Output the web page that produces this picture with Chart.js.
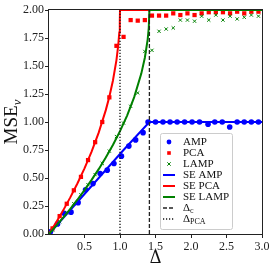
<!DOCTYPE html>
<html>
<head>
<meta charset="utf-8">
<script src="https://cdn.jsdelivr.net/npm/chart.js@4/dist/chart.umd.min.js"></script>
<style>html,body{margin:0;padding:0;background:#fff;}canvas{display:block;}</style>
</head>
<body>
<canvas id="c" width="275" height="273"></canvas>
<script>
// ---- data ----
const pcaDelta = [0.05,0.15,0.25,0.35,0.45,0.55,0.65,0.75,0.85,0.95,1.05,1.15,1.25,1.35,1.45,1.55,1.65,1.75,1.85,1.95,2.05,2.15,2.25,2.35,2.45,2.55,2.65,2.75,2.85,2.95];
const pcaMse   = [0.05,0.16,0.27,0.39,0.51,0.66,0.82,1.00,1.22,1.68,1.76,1.91,1.905,1.91,1.95,1.95,1.95,1.97,1.955,1.97,1.955,1.97,1.98,1.98,1.98,1.97,1.985,1.97,1.985,1.985];
const lampDelta = [0.05,0.15,0.25,0.35,0.45,0.55,0.65,0.75,0.85,0.95,1.05,1.15,1.25,1.35,1.45,1.55,1.65,1.75,1.85,1.95,2.05,2.15,2.25,2.35,2.45,2.55,2.65,2.75,2.85,2.95];
const lampMse   = [0.035,0.11,0.19,0.27,0.35,0.44,0.53,0.63,0.74,0.87,0.99,1.14,1.26,1.63,1.64,1.81,1.83,1.84,1.91,1.91,1.90,1.945,1.91,1.955,1.91,1.945,1.92,1.935,1.955,1.945];
const ampDelta = [0.02,0.12,0.215,0.31,0.41,0.515,0.62,0.72,0.82,0.915,1.02,1.125,1.22,1.325,1.395,1.5,1.605,1.705,1.805,1.91,2.015,2.12,2.24,2.335,2.44,2.545,2.65,2.75,2.85,2.95];
const ampMse   = [0.02,0.09,0.185,0.195,0.28,0.395,0.45,0.54,0.57,0.63,0.695,0.785,0.84,0.905,1.0,1.0,1.0,1.0,1.0,1.0,1.0,1.0,0.98,1.0,1.0,0.955,1.0,1.0,1.0,1.0];

const seAmpDelta = [0,0.35,0.7,1.05,1.414,3.0];
const seAmpMse   = [0,0.25,0.5,0.75,1.0,1.0];
const sePcaDelta = [0,0.1,0.2,0.3,0.4,0.5,0.6,0.7,0.8,0.85,0.9,0.95,0.975,0.99,0.997,1.0,3.0];
const sePcaMse   = [0,0.103,0.211,0.327,0.451,0.586,0.735,0.905,1.106,1.225,1.368,1.553,1.684,1.8,1.89,2.0,2.0];
const seLampDelta = [0,0.1,0.2,0.3,0.4,0.5,0.6,0.7,0.8,0.9,1.0,1.1,1.2,1.3,1.35,1.39,1.405,1.414,3.0];
const seLampMse   = [0,0.072,0.147,0.225,0.306,0.392,0.483,0.579,0.682,0.794,0.918,1.057,1.222,1.432,1.574,1.738,1.839,2.0,2.0];

const deltaC = 1.414;
const deltaPCA = 1.0;
const yRange = [0, 2];
const xTicksStep = 0.5;
const yTicksStep = 0.25;

const legendLabels = ['AMP','PCA','LAMP','SE AMP','SE PCA','SE LAMP','Δ_c','Δ_PCA'];

const pts = (xs, ys) => xs.map((x, i) => ({x, y: ys[i]}));

const BLUE = '#0000ff', RED = '#ff0000', GREEN = '#008000';
const SERIF = '"Liberation Serif", "DejaVu Serif", serif';

const datasets = [
  {label:'AMP', data: pts(ampDelta, ampMse), showLine:false, pointStyle:'circle', pointRadius:2.8, backgroundColor:BLUE, borderColor:BLUE, borderWidth:0},
  {label:'PCA', data: pts(pcaDelta, pcaMse), showLine:false, pointStyle:'rect', pointRadius:3, backgroundColor:RED, borderColor:RED, borderWidth:0},
  {label:'LAMP', data: pts(lampDelta, lampMse), showLine:false, pointStyle:'crossRot', pointRadius:2.3, backgroundColor:GREEN, borderColor:GREEN, borderWidth:1},
  {label:'SE AMP', data: pts(seAmpDelta, seAmpMse), showLine:true, pointRadius:0, borderColor:BLUE, borderWidth:2},
  {label:'SE PCA', data: pts(sePcaDelta, sePcaMse), showLine:true, pointRadius:0, borderColor:RED, borderWidth:2},
  {label:'SE LAMP', data: pts(seLampDelta, seLampMse), showLine:true, pointRadius:0, borderColor:GREEN, borderWidth:2},
  {label:'Δc', data: pts([deltaC, deltaC], yRange), showLine:true, pointRadius:0, borderColor:'#222', borderWidth:1.3, borderDash:[4,2]},
  {label:'ΔPCA', data: pts([deltaPCA, deltaPCA], yRange), showLine:true, pointRadius:0, borderColor:'#111', borderWidth:1.3, borderDash:[1.2,1.8]}
];
datasets.forEach((d, i) => { d.order = datasets.length - i; d.tension = 0; });

function drawSub(ctx, x, y, main, sub, size) {
  ctx.font = size + 'px ' + SERIF;
  ctx.fillText(main, x, y);
  const w = ctx.measureText(main).width;
  ctx.font = Math.round(size * 0.7) + 'px ' + SERIF;
  ctx.fillText(sub, x + w, y + size * 0.22);
}

const decor = {
  id: 'decor',
  afterDraw(chart) {
    const ctx = chart.ctx, ca = chart.chartArea;
    ctx.save();
    // frame
    ctx.strokeStyle = '#222'; ctx.lineWidth = 1;
    ctx.strokeRect(ca.left - 0.5, ca.top - 0.5, ca.right - ca.left + 1, ca.bottom - ca.top + 1);
    ctx.fillStyle = '#111';
    // x title
    ctx.font = '18px ' + SERIF; ctx.textAlign = 'center'; ctx.textBaseline = 'alphabetic';
    ctx.fillText('Δ', (ca.left + ca.right) / 2, 263);
    // y title
    ctx.save();
    ctx.translate(17, (ca.top + ca.bottom) / 2);
    ctx.rotate(-Math.PI / 2);
    ctx.font = '19px ' + SERIF;
    const mw = ctx.measureText('MSE').width;
    ctx.font = 'italic 13px ' + SERIF;
    const vw = ctx.measureText('v').width;
    const tot = mw + vw;
    ctx.textAlign = 'left';
    ctx.font = '19px ' + SERIF;
    ctx.fillText('MSE', -tot / 2, 0);
    ctx.font = 'italic 13px ' + SERIF;
    ctx.fillText('v', -tot / 2 + mw, 4);
    ctx.restore();
    // legend
    const bx = 160, by = 133, bw = 72, bh = 96;
    ctx.fillStyle = 'rgba(255,255,255,0.85)';
    ctx.strokeStyle = '#cccccc'; ctx.lineWidth = 1;
    ctx.beginPath();
    if (ctx.roundRect) ctx.roundRect(bx + 0.5, by + 0.5, bw, bh, 2); else ctx.rect(bx + 0.5, by + 0.5, bw, bh);
    ctx.fill(); ctx.stroke();
    const lx0 = 163, lx1 = 175, mx = 169, tx = 183;
    legendLabels.forEach((lab, i) => {
      const y = 142 + i * 11;
      const d = datasets[i];
      ctx.save();
      if (!d.showLine) {
        ctx.fillStyle = d.backgroundColor; ctx.strokeStyle = d.borderColor; ctx.lineWidth = d.borderWidth || 1;
        ctx.beginPath();
        if (d.pointStyle === 'circle') { ctx.arc(mx, y, 2.4, 0, Math.PI * 2); ctx.fill(); }
        else if (d.pointStyle === 'rect') { ctx.fillRect(mx - 1.8, y - 1.8, 3.6, 3.6); }
        else { ctx.moveTo(mx - 1.7, y - 1.7); ctx.lineTo(mx + 1.7, y + 1.7); ctx.moveTo(mx - 1.7, y + 1.7); ctx.lineTo(mx + 1.7, y - 1.7); ctx.stroke(); }
      } else {
        ctx.strokeStyle = d.borderColor; ctx.lineWidth = d.borderWidth;
        ctx.setLineDash(d.borderDash || []);
        ctx.beginPath(); ctx.moveTo(lx0, y); ctx.lineTo(lx1, y); ctx.stroke();
      }
      ctx.restore();
      ctx.fillStyle = '#111'; ctx.textAlign = 'left'; ctx.textBaseline = 'middle';
      if (lab.indexOf('_') >= 0) {
        const [m, s] = lab.split('_');
        drawSub(ctx, tx, y, m, s, 11);
      } else {
        ctx.font = '11px ' + SERIF;
        ctx.fillText(lab, tx, y);
      }
    });
    ctx.restore();
  }
};

new Chart(document.getElementById('c'), {
  type: 'scatter',
  data: { datasets },
  options: {
    responsive: false,
    devicePixelRatio: 1,
    animation: false,
    layout: { padding: { top: 10, right: 13, left: 0, bottom: 0 } },
    plugins: { legend: { display: false }, tooltip: { enabled: false } },
    scales: {
      x: {
        type: 'linear', min: 0, max: 3,
        afterFit(s) { s.height = 39; },
        border: { display: false },
        grid: { drawOnChartArea: false, drawTicks: true, tickLength: 4, color: '#222' },
        ticks: { stepSize: xTicksStep, padding: 2, color: '#222', font: { family: SERIF, size: 12 },
          callback: v => v === 0 ? null : v.toFixed(1) }
      },
      y: {
        type: 'linear', min: yRange[0], max: yRange[1],
        afterFit(s) { s.width = 49; },
        border: { display: false },
        grid: { drawOnChartArea: false, drawTicks: true, tickLength: 4, color: '#222' },
        ticks: { stepSize: yTicksStep, padding: 1, color: '#222', font: { family: SERIF, size: 12 },
          callback: v => v.toFixed(2) }
      }
    }
  },
  plugins: [decor]
});
</script>
</body>
</html>
